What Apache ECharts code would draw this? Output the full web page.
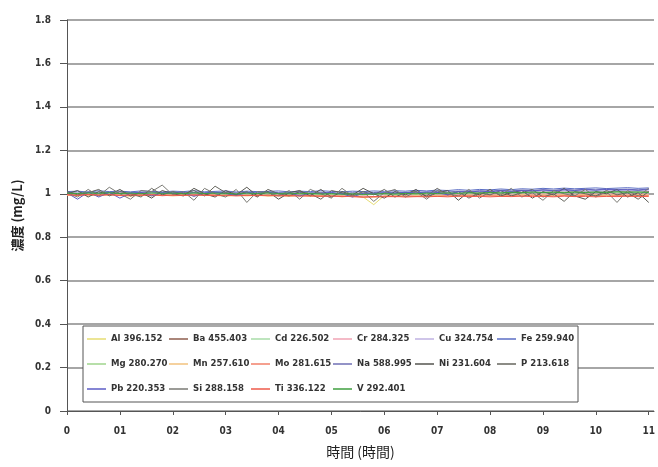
<!DOCTYPE html>
<html><head><meta charset="utf-8">
<script src="https://cdn.jsdelivr.net/npm/echarts@6/dist/echarts.min.js"></script>
<style>html,body{margin:0;padding:0;background:#fff}#c{width:658px;height:467px}</style>
</head><body><div id="c"></div>
<script>
var xTickLabels = ['0','01','02','03','04','05','06','07','08','09','10','11'];
var yTickLabels = ['0','0.2','0.4','0.6','0.8','1','1.2','1.4','1.6','1.8'];
var seriesNames = ['Al 396.152','Ba 455.403','Cd 226.502','Cr 284.325','Cu 324.754','Fe 259.940',
  'Mg 280.270','Mn 257.610','Mo 281.615','Na 588.995','Ni 231.604','P 213.618',
  'Pb 220.353','Si 288.158','Ti 336.122','V 292.401'];
var seriesColors = ['#e6dc72','#8e5e4e','#a9dca9','#f0a3b4','#bfb2e2','#5b6ec4',
  '#9fd48c','#f2c27e','#f2806a','#6f6fb4','#55554f','#66665e',
  '#5d5dc6','#7a7a74','#ee5a4a','#3f9f3f'];

var tCoarse = [0,0.2,0.4,0.6,0.8,1.0,1.2,1.4,1.6,1.8,2.0,2.2,2.4,2.6,2.8,3.0,3.2,3.4,3.6,3.8,
  4.0,4.2,4.4,4.6,4.8,5.0,5.2,5.4,5.6,5.8,6.0,6.2,6.4,6.6,6.8,7.0,7.2,7.4,7.6,7.8,
  8.0,8.2,8.4,8.6,8.8,9.0,9.2,9.4,9.6,9.8,10.0,10.2,10.4,10.6,10.8,11.0];
var tFine = [0,0.1,0.2,0.3,0.4,0.5,0.6,0.7,0.8,0.9,1.0,1.1,1.2,1.3,1.4,1.5,1.6,1.7,1.8,1.9,
  2.0,2.1,2.2,2.3,2.4,2.5,2.6,2.7,2.8,2.9,3.0,3.1,3.2,3.3,3.4,3.5,3.6,3.7,3.8,3.9,
  4.0,4.1,4.2,4.3,4.4,4.5,4.6,4.7,4.8,4.9,5.0,5.1,5.2,5.3,5.4,5.5,5.6,5.7,5.8,5.9,
  6.0,6.1,6.2,6.3,6.4,6.5,6.6,6.7,6.8,6.9,7.0,7.1,7.2,7.3,7.4,7.5,7.6,7.7,7.8,7.9,
  8.0,8.1,8.2,8.3,8.4,8.5,8.6,8.7,8.8,8.9,9.0,9.1,9.2,9.3,9.4,9.5,9.6,9.7,9.8,9.9,
  10.0,10.1,10.2,10.3,10.4,10.5,10.6,10.7,10.8,10.9,11.0];

var Al = [0.996,0.993,0.998,0.994,0.997,0.992,0.996,0.995,0.991,0.997,
 0.994,0.996,0.992,0.997,0.995,0.993,0.996,0.994,0.992,0.995,
 0.993,0.996,0.991,0.994,0.992,0.995,0.990,0.993,0.985,0.950,
 0.992,0.994,0.991,0.995,0.993,0.990,0.994,0.992,0.995,0.993,
 0.991,0.994,0.992,0.995,0.993,0.991,0.994,0.992,0.990,0.993,
 0.991,0.994,0.992,0.990,0.993,0.991];
var Ba = [1.002,0.998,1.004,1.000,0.997,1.003,0.999,1.005,1.001,0.998,
 1.003,0.999,1.002,0.996,1.001,1.004,0.998,1.002,0.999,1.003,
 1.000,0.997,1.002,0.999,1.004,0.998,1.001,0.996,1.000,0.998,
 1.002,0.999,1.003,1.000,1.004,1.001,1.005,1.002,1.006,1.003,
 1.007,1.004,1.008,1.005,1.009,1.006,1.010,1.007,1.011,1.008,
 1.010,1.007,1.011,1.009,1.012,1.010];
var Cd = [1.000,1.003,0.999,1.002,1.001,0.998,1.002,1.000,1.003,0.999,
 1.001,1.002,0.998,1.001,1.003,0.999,1.000,1.002,0.998,1.001,
 1.000,1.002,0.999,1.001,0.998,1.000,0.997,1.000,0.996,0.998,
 1.001,0.999,1.002,1.000,1.003,1.001,1.004,1.002,1.005,1.003,
 1.004,1.006,1.003,1.005,1.007,1.004,1.006,1.008,1.005,1.007,
 1.006,1.008,1.005,1.007,1.009,1.006];
var Cr = [0.995,0.997,0.993,0.996,0.994,0.998,0.993,0.996,0.995,0.992,
 0.996,0.994,0.997,0.993,0.995,0.992,0.996,0.994,0.991,0.995,
 0.993,0.990,0.994,0.992,0.989,0.993,0.990,0.988,0.991,0.987,
 0.990,0.992,0.989,0.993,0.991,0.994,0.992,0.995,0.993,0.996,
 0.994,0.997,0.995,0.998,0.996,0.999,0.997,0.998,0.996,0.999,
 0.997,1.000,0.998,0.996,0.999,0.997];
var Cu = [1.004,1.001,1.005,1.002,1.006,1.003,1.000,1.004,1.002,1.005,
 1.001,1.004,1.002,1.006,1.003,1.001,1.005,1.002,1.004,1.000,
 1.003,1.001,1.004,1.002,1.000,1.003,0.999,1.002,1.000,0.998,
 1.002,1.004,1.001,1.005,1.003,1.006,1.004,1.008,1.005,1.009,
 1.007,1.010,1.008,1.012,1.009,1.013,1.010,1.014,1.011,1.013,
 1.010,1.014,1.012,1.015,1.011,1.014];
var Fe = [1.010,1.012,1.008,1.014,1.010,1.012,1.009,1.013,1.011,1.008,
 1.012,1.010,1.014,1.009,1.011,1.013,1.008,1.012,1.010,1.011,
 1.013,1.009,1.012,1.010,1.014,1.011,1.009,1.012,1.010,1.013,
 1.011,1.014,1.012,1.016,1.013,1.017,1.015,1.019,1.016,1.020,
 1.018,1.022,1.019,1.023,1.021,1.025,1.022,1.026,1.023,1.025,
 1.027,1.024,1.026,1.028,1.025,1.027];
var Mg = [1.001,0.998,1.002,0.999,1.003,1.000,0.997,1.001,0.999,1.002,
 0.998,1.001,0.999,1.002,1.000,0.997,1.001,0.999,1.002,0.998,
 1.000,0.998,1.001,0.997,0.999,0.996,1.000,0.997,0.995,0.998,
 1.000,0.998,1.001,0.999,1.002,1.000,1.003,1.001,1.004,1.002,
 1.005,1.003,1.006,1.004,1.007,1.005,1.008,1.006,1.007,1.005,
 1.008,1.006,1.009,1.007,1.008,1.006];
var Mn = [0.993,0.990,0.994,0.991,0.995,0.992,0.989,0.993,0.991,0.994,
 0.990,0.993,0.991,0.994,0.992,0.989,0.992,0.990,0.993,0.989,
 0.991,0.988,0.992,0.989,0.987,0.990,0.986,0.989,0.985,0.984,
 0.988,0.990,0.987,0.991,0.989,0.992,0.990,0.993,0.991,0.994,
 0.992,0.995,0.993,0.996,0.994,0.995,0.993,0.996,0.994,0.997,
 0.995,0.993,0.996,0.994,0.997,0.995];
var Mo = [0.995,0.992,0.996,0.993,0.997,0.994,0.991,0.995,0.993,0.996,
 0.992,0.995,0.993,0.996,0.994,0.991,0.994,0.992,0.995,0.991,
 0.993,0.990,0.993,0.989,0.991,0.987,0.990,0.986,0.984,0.986,
 0.988,0.986,0.989,0.987,0.990,0.988,0.991,0.989,0.992,0.990,
 0.991,0.989,0.992,0.990,0.993,0.991,0.989,0.992,0.990,0.993,
 0.991,0.989,0.992,0.990,0.993,0.991];
var Na = [1.006,1.003,1.008,1.004,1.007,1.002,1.006,1.004,1.008,1.003,
 1.007,1.004,1.006,1.002,1.005,1.008,1.003,1.006,1.004,1.007,
 1.005,1.002,1.006,1.003,1.007,1.004,1.001,1.005,1.002,1.006,
 1.004,1.008,1.005,1.009,1.006,1.011,1.008,1.012,1.010,1.014,
 1.012,1.016,1.013,1.017,1.015,1.019,1.016,1.020,1.017,1.021,
 1.018,1.022,1.019,1.021,1.018,1.022];
var Ni = [1.000,1.015,0.985,1.010,0.995,1.020,0.990,1.005,0.980,1.015,1.000,
 0.990,1.025,1.000,0.985,1.015,0.995,1.030,0.990,1.010,0.975,
 1.005,1.015,0.990,1.020,0.985,1.010,0.995,1.025,1.000,0.980,
 1.010,0.995,1.020,0.985,1.005,1.015,0.970,1.010,0.995,1.020,
 0.990,1.005,1.015,0.980,1.010,0.995,1.025,0.990,0.975,1.010,
 1.000,1.020,0.985,1.005,0.960,1.015,0.995,1.010,0.990,1.020,
 0.995,1.010,0.985,1.015,1.030,0.995,1.010,0.985,1.020,1.005,
 0.990,1.015,1.040,1.005,1.020,0.995,1.010,1.035,1.000,1.020,
 1.010,1.025,0.995,1.015,1.060,1.010,1.025,1.005,1.040,1.015,
 1.030,1.010,1.020,1.045,1.015,1.030,1.010,1.055,1.020,1.035,
 1.015,1.025,1.045,1.015,1.030,1.050,1.020,1.035,1.015,1.065,1.025];
var P = [1.010,0.995,1.005,1.020,0.990,1.010,1.000,0.985,1.025,0.995,1.010,
 1.000,1.015,0.990,1.035,1.005,0.995,1.010,0.985,1.020,1.000,
 0.990,1.010,1.000,0.975,1.015,1.005,0.990,1.010,0.995,1.020,
 0.985,1.005,1.010,0.990,1.025,0.995,1.010,0.980,1.005,0.995,
 1.015,0.990,1.005,1.020,0.985,1.000,0.965,1.010,1.000,0.990,
 1.015,0.995,1.005,0.975,1.010,1.000,1.020,0.985,1.005,0.995,
 1.015,1.005,0.990,1.020,1.000,1.025,0.990,1.005,1.035,1.000,
 1.015,0.995,1.025,1.010,0.995,1.040,1.005,1.020,1.010,1.045,
 1.015,1.005,1.030,1.015,1.005,1.025,1.040,1.010,1.020,1.065,
 1.015,1.025,1.035,1.020,1.010,1.030,1.075,1.020,1.030,1.015,
 1.040,1.020,1.030,1.015,1.060,1.025,1.035,1.015,1.030,1.055,1.020];
var Pb = [1.004,0.975,1.008,0.985,1.006,0.980,1.003,1.007,0.990,1.005,
 1.002,1.006,0.988,1.004,1.007,1.001,0.992,1.005,1.003,1.006,
 1.002,1.005,0.990,1.004,1.001,1.006,1.000,0.985,1.003,1.001,
 1.005,1.002,1.007,1.004,1.009,1.006,0.995,1.010,1.008,1.012,
 1.010,1.014,1.011,1.015,1.013,1.017,1.014,1.018,1.015,1.019,
 1.016,1.020,1.017,1.019,1.016,1.020];
var Si = [1.005,0.985,1.020,0.990,1.030,1.000,0.975,1.015,1.010,1.040,0.995,
 1.010,0.970,1.025,1.000,0.985,1.020,0.960,1.010,1.005,0.990,
 1.015,0.975,1.020,1.000,0.980,1.025,0.990,1.010,0.965,1.005,
 1.020,0.985,1.010,0.975,1.015,1.000,0.990,1.020,0.980,1.010,
 0.995,1.025,0.985,1.005,0.970,1.015,1.000,0.990,1.020,0.985,
 1.010,0.960,1.015,0.990,1.025,0.980,1.005,0.965,1.020,0.995,
 1.010,0.985,1.030,0.990,1.015,1.000,0.975,1.020,1.005,0.990,
 1.035,1.000,1.020,0.985,1.030,1.010,0.995,1.025,1.000,1.015,
 1.005,1.045,1.010,1.020,0.990,1.030,1.015,1.050,1.005,1.025,
 1.010,1.030,1.015,1.095,1.020,1.010,1.040,1.015,1.055,1.020,
 1.030,1.010,1.060,1.020,1.035,1.015,1.070,1.025,1.040,1.015,1.045];
var Ti = [0.996,0.993,0.997,0.994,0.996,0.992,0.995,0.993,0.996,0.991,
 0.994,0.992,0.995,0.993,0.991,0.994,0.990,0.993,0.991,0.994,
 0.990,0.992,0.989,0.991,0.988,0.990,0.987,0.989,0.985,0.987,
 0.986,0.988,0.985,0.987,0.986,0.988,0.986,0.989,0.987,0.988,
 0.986,0.988,0.987,0.989,0.987,0.988,0.986,0.989,0.987,0.988,
 0.986,0.988,0.987,0.989,0.987,0.988];
var V = [1.003,1.001,1.004,1.002,1.005,1.001,1.003,1.000,1.004,1.002,
 1.003,1.000,1.004,1.001,1.003,1.002,0.999,1.003,1.001,1.004,
 1.001,1.003,1.000,1.002,0.999,1.001,0.998,1.000,0.997,0.999,
 1.001,0.999,1.002,1.000,1.003,1.001,1.004,1.002,1.005,1.003,
 1.006,1.004,1.007,1.005,1.008,1.006,1.007,1.005,1.008,1.006,
 1.008,1.006,1.009,1.007,1.008,1.006];

var seriesValues = [Al,Ba,Cd,Cr,Cu,Fe,Mg,Mn,Mo,Na,Ni,P,Pb,Si,Ti,V];

var FONT = "'Liberation Sans Narrow','DejaVu Sans Condensed','Liberation Sans',sans-serif";
var CJK = "'Noto Sans CJK TC','Noto Sans CJK JP',sans-serif";

var series = seriesNames.map(function (name, k) {
  var vals = seriesValues[k];
  var t = vals.length === tFine.length ? tFine : tCoarse;
  return {
    name: name, type: 'line', symbol: 'none', smooth: false, animation: false,
    lineStyle: { width: 1, color: seriesColors[k] },
    itemStyle: { color: seriesColors[k] },
    data: vals.map(function (v, i) { return [t[i], v]; })
  };
});

var chart = echarts.init(document.getElementById('c'), null, { renderer: 'canvas' });
chart.setOption({
  backgroundColor: '#fff',
  animation: false,
  color: seriesColors,
  grid: { left: 67, top: 20, right: 0, bottom: 56, containLabel: false },
  xAxis: {
    type: 'value', min: 0, max: 11.1, interval: 1,
    name: '時間 (時間)', nameLocation: 'middle', nameGap: 34,
    nameTextStyle: { fontFamily: CJK, fontSize: 14, color: '#222' },
    axisLine: { show: true, lineStyle: { color: '#555', width: 1 } },
    axisTick: { show: true, length: 4, lineStyle: { color: '#555' } },
    splitLine: { show: false },
    axisLabel: {
      margin: 15, showMaxLabel: false,
      fontFamily: FONT, fontWeight: 'bold', fontSize: 10, color: '#333',
      formatter: function (v) { var i = Math.round(v); return Math.abs(v - i) < 1e-6 && xTickLabels[i] !== undefined ? xTickLabels[i] : ''; }
    }
  },
  yAxis: {
    type: 'value', min: 0, max: 1.8, interval: 0.2,
    name: '濃度 (mg/L)', nameLocation: 'middle', nameGap: 43, nameRotate: 90,
    nameTextStyle: { fontFamily: CJK, fontSize: 13, fontWeight: 'bold', color: '#222' },
    axisLine: { show: true, lineStyle: { color: '#555', width: 1 } },
    axisTick: { show: true, length: 7, lineStyle: { color: '#555' } },
    splitLine: { show: true, lineStyle: { color: '#888', width: 1.6 } },
    axisLabel: {
      margin: 16, fontFamily: FONT, fontWeight: 'bold', fontSize: 10, color: '#333',
      formatter: function (v) { var i = Math.round(v / 0.2); return yTickLabels[i] !== undefined ? yTickLabels[i] : ''; }
    }
  },
  legend: {
    data: seriesNames,
    left: 83, top: 326, width: 520,
    orient: 'horizontal',
    padding: [1, 0, 1, 4],
    itemGap: 1, itemWidth: 19, itemHeight: 1.5,
    icon: 'rect',
    backgroundColor: '#fff', borderColor: '#555', borderWidth: 1,
    textStyle: { fontFamily: FONT, fontWeight: 'bold', fontSize: 9.5, color: '#333', width: 57, height: 24, lineHeight: 24 }
  },
  series: series
});
</script>
</body></html>
